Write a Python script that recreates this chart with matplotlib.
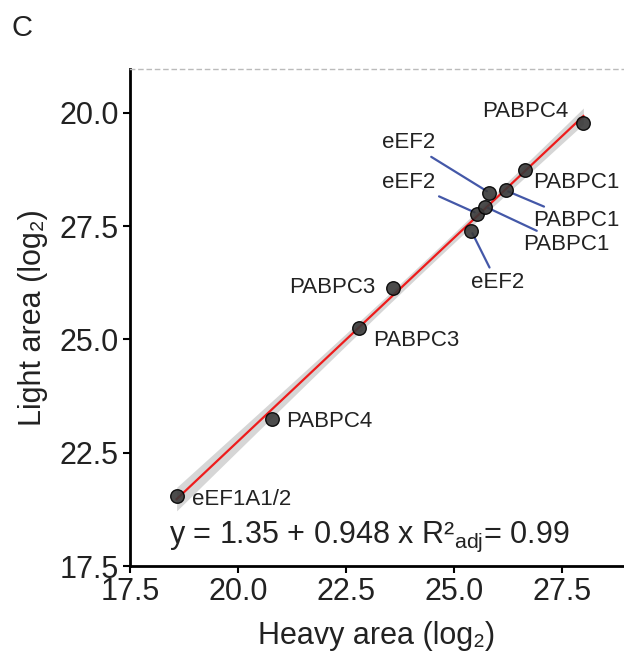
import numpy as np
import matplotlib
matplotlib.use('Agg')
import matplotlib.pyplot as plt

plt.rcParams['font.family'] = ['Liberation Sans', 'DejaVu Sans']
plt.rcParams['mathtext.fontset'] = 'custom'
plt.rcParams['mathtext.rm'] = 'Liberation Sans'
plt.rcParams['mathtext.it'] = 'Liberation Sans:italic'

# data (log2 areas)
names = ['eEF1A1/2', 'PABPC4', 'PABPC3', 'PABPC3', 'eEF2', 'eEF2',
         'PABPC1', 'eEF2', 'PABPC1', 'PABPC1', 'PABPC4']
heavy = [18.58, 20.80, 22.81, 23.59, 25.40, 25.54, 25.73, 25.82, 26.20, 26.64, 28.00]
light = [21.55, 23.25, 25.25, 26.14, 27.40, 27.78, 27.93, 28.24, 28.29, 28.73, 29.78]

x_ticks = [17.5, 20.0, 22.5, 25.0, 27.5]
x_tick_labels = ['17.5', '20.0', '22.5', '25.0', '27.5']
y_ticks = [20.0, 22.5, 25.0, 27.5, 30.0]
y_tick_labels = ['17.5', '22.5', '25.0', '27.5', '20.0']

eq_text = 'y = 1.35 + 0.948 x R²$_{\\mathrm{adj}}$= 0.99'

# label offsets in pixels (dx, dy) and whether a leader line is drawn
offsets = [(65, -4), (57, -3), (57, -12), (-61, 0), (26, -52), (-69, 31),
           (81, -38), (-81, 50), (71, -30), (52, -12), (-58, 11)]
leaders = [False, False, False, False, True, True, True, True, True, False, False]

fig = plt.figure(figsize=(6.24, 6.6), dpi=100)
ax = fig.add_axes([0.2083, 0.1424, 0.7917, 0.7531])

hx = np.array(heavy)
ly = np.array(light)

# linear fit with 95% confidence band
slope, icpt = np.polyfit(hx, ly, 1)
xs = np.linspace(hx.min(), hx.max(), 100)
ys = icpt + slope * xs
n = len(hx)
resid = ly - (icpt + slope * hx)
s = np.sqrt(np.sum(resid ** 2) / (n - 2))
se = s * np.sqrt(1.0 / n + (xs - hx.mean()) ** 2 / np.sum((hx - hx.mean()) ** 2))
t = 2.262
ax.fill_between(xs, ys - t * se, ys + t * se, color='#cccccc', alpha=0.8, lw=0, zorder=1)
ax.plot(xs, ys, color='#ee1c1c', lw=1.6, zorder=2)

ax.scatter(hx, ly, s=95, color='#383838', edgecolor='black', linewidth=1.0,
           alpha=0.9, zorder=4)

for i in range(n):
    dx, dy = offsets[i]
    if leaders[i]:
        ap = dict(arrowstyle='-', color='#4458a8', lw=1.6, shrinkA=2, shrinkB=2)
    else:
        ap = None
    ax.annotate(names[i], (hx[i], ly[i]), xytext=(dx, dy), textcoords='offset pixels',
                ha='center', va='center', fontsize=16, color='#222222',
                bbox=dict(boxstyle='square,pad=0.1', fc='none', ec='none'),
                arrowprops=ap, zorder=3)

ax.text(0.079, 0.058, eq_text, transform=ax.transAxes, ha='left', va='center',
        fontsize=22, color='#222222')

ax.set_xlim(17.5, 28.94)
ax.set_ylim(20.0, 30.97)
ax.set_xticks(x_ticks)
ax.set_xticklabels(x_tick_labels)
ax.set_yticks(y_ticks)
ax.set_yticklabels(y_tick_labels)
ax.tick_params(labelsize=22, length=5, width=1.5, colors='black',
               labelcolor='#222222', pad=3)

ax.spines['right'].set_visible(False)
ax.spines['left'].set_linewidth(2)
ax.spines['bottom'].set_linewidth(2)
ax.spines['top'].set_linestyle((0, (3, 3)))
ax.spines['top'].set_color('#bbbbbb')
ax.spines['top'].set_linewidth(1)

ax.set_xlabel('Heavy area (log₂)', fontsize=22, color='#222222', labelpad=10)
ax.set_ylabel('Light area (log₂)', fontsize=22, color='#222222', labelpad=8)

fig.text(0.019, 0.958, 'C', fontsize=21, color='#222222', ha='left', va='center')

fig.savefig('out.png', dpi=100)
